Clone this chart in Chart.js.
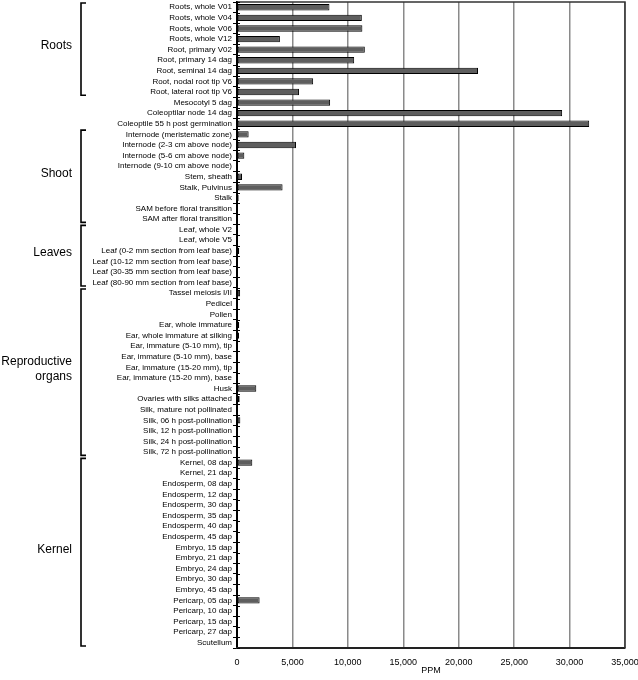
<!DOCTYPE html>
<html>
<head>
<meta charset="utf-8">
<script src="https://cdn.jsdelivr.net/npm/chart.js@4/dist/chart.umd.min.js"></script>
<style>
html,body{margin:0;padding:0;background:#fff;}
#wrap{width:638px;height:680px;}
</style>
</head>
<body>
<div id="wrap"><canvas id="c" width="638" height="680"></canvas></div>
<script>
const categories = [
  "Roots, whole V01","Roots, whole V04","Roots, whole V06","Roots, whole V12",
  "Root, primary V02","Root, primary 14 dag","Root, seminal 14 dag",
  "Root, nodal root tip V6","Root, lateral root tip V6","Mesocotyl 5 dag",
  "Coleoptilar node 14 dag","Coleoptile 55 h post germination",
  "Internode (meristematic zone)","Internode (2-3 cm above node)","Internode (5-6 cm above node)",
  "Internode (9-10 cm above node)","Stem, sheath","Stalk, Pulvinus","Stalk",
  "SAM before floral transition","SAM after floral transition",
  "Leaf, whole V2","Leaf, whole V5","Leaf (0-2 mm section from leaf base)",
  "Leaf (10-12 mm section from leaf base)","Leaf (30-35 mm section from leaf base)",
  "Leaf (80-90 mm section from leaf base)",
  "Tassel meiosis I/II","Pedicel","Pollen","Ear, whole immature","Ear, whole immature at silking",
  "Ear, immature (5-10 mm), tip","Ear, immature (5-10 mm), base","Ear, immature (15-20 mm), tip",
  "Ear, immature (15-20 mm), base","Husk","Ovaries with silks attached","Silk, mature not pollinated",
  "Silk, 06 h post-pollination","Silk, 12 h post-pollination","Silk, 24 h post-pollination",
  "Silk, 72 h post-pollination",
  "Kernel, 08 dap","Kernel, 21 dap","Endosperm, 08 dap","Endosperm, 12 dap","Endosperm, 30 dap",
  "Endosperm, 35 dap","Endosperm, 40 dap","Endosperm, 45 dap","Embryo, 15 dap","Embryo, 21 dap",
  "Embryo, 24 dap","Embryo, 30 dap","Embryo, 45 dap","Pericarp, 05 dap","Pericarp, 10 dap",
  "Pericarp, 15 dap","Pericarp, 27 dap","Scutellum"
];
const ppm = [
  8340, 11260, 11310, 3870,
  11530, 10570, 21740,
  6870, 5590, 8400,
  29330, 31770,
  1050, 5320, 660,
  0, 450, 4110, 150,
  0, 0,
  0, 0, 200,
  0, 0,
  0,
  280, 0, 0, 200, 180,
  0, 0, 0,
  0, 1740, 240, 0,
  300, 0, 0,
  0,
  1380, 0, 0, 0, 0,
  0, 0, 0, 0, 0,
  0, 0, 0, 2040, 0,
  0, 0, 0
];
const groupNames = [["Roots"],["Shoot"],["Leaves"],["Reproductive","organs"],["Kernel"]];
const groupFirst = [0, 12, 21, 27, 43];
const groupLast  = [8, 20, 26, 42, 60];
const xTicksMax = 35000;
const xStep = 5000;
const axisTitle = "PPM";

const FONT = "'Liberation Sans', Arial, sans-serif";

const decor = {
  id: 'decor',
  afterDraw(chart) {
    const ctx = chart.ctx;
    const y = chart.scales.y;
    const a = chart.chartArea;
    const row = y.getPixelForValue(1) - y.getPixelForValue(0);
    ctx.save();
    // frame top/right
    ctx.strokeStyle = '#333';
    ctx.lineWidth = 1.5;
    ctx.beginPath();
    ctx.moveTo(a.left, a.top); ctx.lineTo(a.right, a.top); ctx.lineTo(a.right, a.bottom);
    ctx.stroke();
    // inner part of y ticks
    ctx.strokeStyle = '#000';
    ctx.lineWidth = 1;
    ctx.beginPath();
    for (let i = 0; i <= categories.length; i++) {
      const py = Math.round(y.getPixelForValue(i) - row / 2) + 0.5;
      ctx.moveTo(a.left, py); ctx.lineTo(a.left + 3, py);
    }
    ctx.stroke();
    // brackets + group labels
    ctx.strokeStyle = '#000';
    ctx.lineWidth = 1.6;
    ctx.fillStyle = '#000';
    ctx.font = '12px ' + FONT;
    ctx.textAlign = 'right';
    ctx.textBaseline = 'middle';
    for (let g = 0; g < groupNames.length; g++) {
      const t = y.getPixelForValue(groupFirst[g]) - row / 2 + 1;
      const b = y.getPixelForValue(groupLast[g]) + row / 2 - 2;
      ctx.beginPath();
      ctx.moveTo(86, t); ctx.lineTo(81, t); ctx.lineTo(81, b); ctx.lineTo(86, b);
      ctx.stroke();
      const lines = groupNames[g];
      const mid = (t + b) / 2 - 3;
      const lh = 15;
      lines.forEach((ln, k) => {
        ctx.fillText(ln, 72, mid + (k - (lines.length - 1) / 2) * lh);
      });
    }
    ctx.restore();
  }
};

new Chart(document.getElementById('c'), {
  type: 'bar',
  data: {
    labels: categories,
    datasets: [{
      data: ppm,
      backgroundColor: '#5e5e5e',
      borderColor: '#000',
      borderWidth: 1,
      borderSkipped: false,
      barPercentage: 0.6,
      categoryPercentage: 1
    }]
  },
  options: {
    indexAxis: 'y',
    responsive: false,
    animation: false,
    devicePixelRatio: 1,
    layout: { padding: { left: 0, right: 13, top: 2, bottom: 0 } },
    plugins: { legend: { display: false }, tooltip: { enabled: false } },
    scales: {
      y: {
        type: 'category',
        offset: true,
        grid: { offset: true, drawOnChartArea: false, drawTicks: true, tickLength: 4, color: '#000', lineWidth: 1 },
        border: { display: true, color: '#000', width: 2 },
        ticks: { autoSkip: false, font: { family: FONT, size: 8 }, color: '#000', padding: 1 },
        afterFit(s) { s.width = 237; s.paddingTop = 0; s.paddingBottom = 0; }
      },
      x: {
        min: 0, max: xTicksMax,
        grid: { color: '#8a8a8a', lineWidth: 1.5, drawTicks: false },
        border: { display: true, color: '#222', width: 2 },
        ticks: {
          stepSize: xStep,
          font: { family: FONT, size: 9 }, color: '#000', padding: 9,
          maxRotation: 0,
          callback: v => Number(v).toLocaleString('en-US')
        },
        title: { display: true, text: axisTitle, font: { family: FONT, size: 9 }, color: '#000', padding: { top: 0, bottom: 4 } },
        afterFit(s) { s.height = 32; s.paddingRight = 13; s.paddingLeft = 0; }
      }
    }
  },
  plugins: [decor]
});
</script>
</body>
</html>
